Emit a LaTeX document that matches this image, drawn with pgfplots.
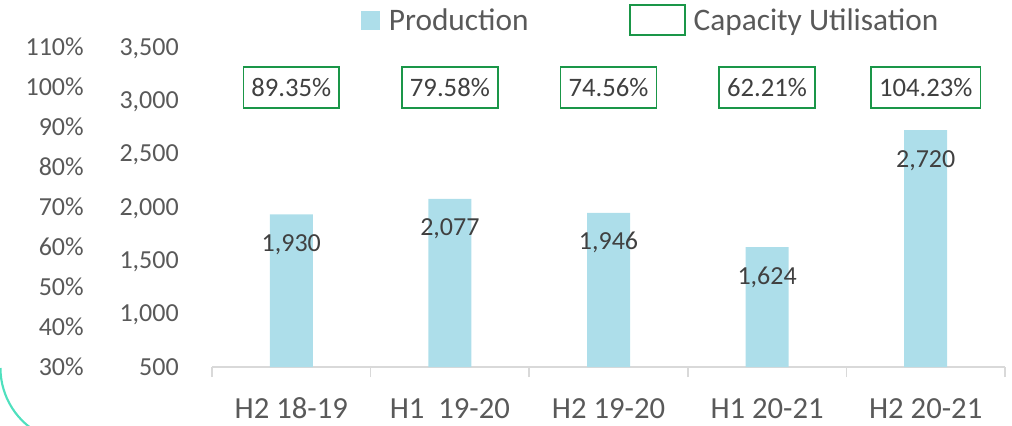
\documentclass[border=0pt]{standalone}
\usepackage{fontspec}
\setmainfont{Carlito}
\usepackage{pgfplots}
\usepackage{pgfplotstable}
\pgfplotsset{compat=1.18}
\definecolor{barblue}{HTML}{ADDEEA}
\definecolor{capgreen}{RGB}{26,150,72}
\definecolor{ticktext}{HTML}{595959}
\definecolor{labeltext}{HTML}{404040}
\definecolor{axisgray}{HTML}{D9D9D9}
\definecolor{arcteal}{HTML}{4FE0BE}

\pgfplotstableread{
x prod
0 1930
1 2077
2 1946
3 1624
4 2720
}\prodtable
\pgfplotstableread{
x y lab
0 3120 89.35
1 3120 79.58
2 3120 74.56
3 3120 62.21
4 3120 104.23
}\captable

\begin{document}
\begin{tikzpicture}
\useasboundingbox (-159pt,-43.5pt) rectangle (600pt,275.25pt);
\begin{scope}
\clip (-159pt,-43.5pt) rectangle (600pt,275.25pt);
\draw[arcteal, line width=1.6pt] (-102.75pt,-0.75pt) ++(180:55.9pt) arc[start angle=180, end angle=245, radius=55.9pt];
\end{scope}

% percent axis
\begin{axis}[
  scale only axis, width=594.75pt, height=240pt,
  xmin=-0.5, xmax=4.5, ymin=30, ymax=110,
  ytick={30,40,...,110},
  yticklabel={\pgfmathprintnumber{\tick}\%},
  /pgf/number format/assume math mode=true,
  hide x axis,
  axis y line*=left, y axis line style={draw=none},
  major tick length=0pt,
  yticklabel style={anchor=base east, inner sep=0pt, xshift=-96pt, yshift=-6.2pt,
    font=\fontsize{19.5pt}{19.5pt}\selectfont, text=ticktext},
]
\addplot[draw=none] coordinates {(0,30)};
\end{axis}

% production axis
\begin{axis}[
  scale only axis, width=594.75pt, height=240pt,
  xmin=-0.5, xmax=4.5, ymin=500, ymax=3500,
  ytick={500,1000,...,3500},
  /pgf/number format/.cd, 1000 sep={,}, assume math mode=true, /pgfplots/.cd,
  axis x line*=bottom, axis y line*=left,
  y axis line style={draw=none},
  x axis line style={axisgray, line width=1.1pt},
  xtick={0,1,2,3,4},
  xticklabels={H2 18-19, H1\ \ 19-20, H2 19-20, H1 20-21, H2 20-21},
  major tick length=0pt,
  extra x ticks={-0.5,0.5,1.5,2.5,3.5,4.5},
  extra x tick labels={},
  extra x tick style={major tick length=7.5pt, tick align=outside, tick style={axisgray, line width=1.1pt}},
  xticklabel style={anchor=base, inner sep=0pt, yshift=-38.25pt,
    font=\fontsize{23pt}{23pt}\selectfont, text=ticktext},
  yticklabel style={anchor=base east, inner sep=0pt, xshift=-24.75pt, yshift=-6.2pt,
    font=\fontsize{19.5pt}{19.5pt}\selectfont, text=ticktext},
  legend columns=2,
  legend style={draw=none, fill=none, inner sep=0pt,
    at={(axis description cs:0.188,1.084)}, anchor=west,
    font=\fontsize{23.5pt}{23.5pt}\selectfont, text=ticktext,
    nodes={inner sep=0pt},
    /tikz/column 1/.style={column sep=6.75pt},
    /tikz/column 2/.style={column sep=75pt},
    /tikz/column 3/.style={column sep=6pt}},
]
\addlegendimage{legend image code/.code={\fill[barblue] (0pt,-6.75pt) rectangle (13.5pt,6.75pt);}}
\addlegendimage{legend image code/.code={\draw[capgreen, line width=1.5pt] (0pt,-11.25pt) rectangle (41.25pt,11.25pt);}}
\addplot[ybar, bar width=32.25pt, fill=barblue, draw=none, forget plot,
  nodes near coords,
  every node near coord/.append style={anchor=base, inner sep=0pt, yshift=-27.75pt,
    font=\fontsize{19.5pt}{19.5pt}\selectfont, text=labeltext}]
  table[x=x, y=prod] {\prodtable};
\addplot[draw=none, forget plot,
  point meta=explicit symbolic,
  nodes near coords={\pgfplotspointmeta\%},
  every node near coord/.append style={anchor=center, draw=capgreen, line width=1.1pt,
    inner xsep=6pt, inner ysep=0pt, minimum height=30.75pt,
    font=\fontsize{20pt}{20pt}\selectfont, text=labeltext}]
  table[x=x, y=y, meta=lab] {\captable};
\legend{Production, Capacity Utilisation}
\end{axis}
\end{tikzpicture}
\end{document}
